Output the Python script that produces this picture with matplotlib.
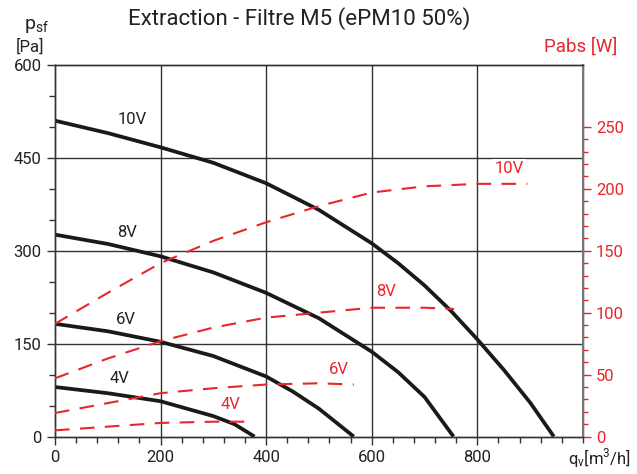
import matplotlib.pyplot as plt
from matplotlib.ticker import MultipleLocator, FixedLocator

plt.rcParams['font.family'] = ['Roboto', 'DejaVu Sans']
plt.rcParams['mathtext.fontset'] = 'custom'
plt.rcParams['mathtext.rm'] = 'Roboto'

RED = '#e8262d'

# pression statique (courbes noires) [Pa]
q_10v = [0, 100, 200, 300, 400, 500, 600, 650, 700, 750, 800, 850, 900, 945]
p_10v = [510, 490, 467, 442, 409, 366, 312, 280, 244, 203, 157, 108, 55, 0]
q_8v = [0, 100, 200, 300, 400, 500, 600, 650, 700, 755]
p_8v = [326, 311, 291, 265, 232, 191, 137, 104, 64, 0]
q_6v = [0, 100, 200, 300, 400, 450, 500, 566]
p_6v = [182, 170, 153, 130, 97, 73, 45, 0]
q_4v = [0, 100, 200, 300, 340, 378]
p_4v = [80, 70, 57, 33, 20, 0]

# puissance absorbee (courbes rouges) [W]
qw_10v = [0, 100, 200, 300, 400, 500, 600, 700, 800, 895]
w_10v = [91, 116, 140, 158, 173, 186, 197, 202, 204, 204]
qw_8v = [0, 100, 200, 300, 400, 500, 600, 700, 756]
w_8v = [47, 63, 77, 88, 96, 100, 104, 104, 103]
qw_6v = [0, 100, 200, 300, 400, 500, 566]
w_6v = [19, 27, 35, 39, 42, 43, 42]
qw_4v = [0, 100, 200, 300, 370]
w_4v = [5, 8, 11, 12, 12]

fig = plt.figure(figsize=(6.37, 4.74), dpi=100)
ax = fig.add_axes([0.0863, 0.079, 0.8287, 0.784])
ax2 = ax.twinx()

# grille
for x in [200, 400, 600, 800]:
    ax.axvline(x, color='#333333', lw=1, zorder=1)
for y in [150, 300, 450]:
    ax.axhline(y, color='#333333', lw=1, zorder=1)

for q, p in [(q_10v, p_10v), (q_8v, p_8v), (q_6v, p_6v), (q_4v, p_4v)]:
    ax.plot(q, p, color='#1a1a1a', lw=2.7, zorder=3, solid_capstyle='butt',
            solid_joinstyle='round')

for q, w in [(qw_10v, w_10v), (qw_8v, w_8v), (qw_6v, w_6v), (qw_4v, w_4v)]:
    ax2.plot(q, w, color=RED, lw=1.5, dashes=(7, 5), zorder=3)

ax.set_xlim(0, 1000)
ax.set_ylim(0, 600)
ax2.set_ylim(0, 300)

ax.xaxis.set_major_locator(FixedLocator([0, 200, 400, 600, 800]))
ax.xaxis.set_minor_locator(MultipleLocator(40))
ax.yaxis.set_major_locator(MultipleLocator(150))
ax.yaxis.set_minor_locator(MultipleLocator(50))
ax2.yaxis.set_major_locator(FixedLocator([0, 50, 100, 150, 200, 250]))
ax2.yaxis.set_minor_locator(FixedLocator(list(range(0, 251, 10))))

ax.tick_params(axis='both', which='major', labelsize=12, length=6, width=1,
               color='#333333', labelcolor='#222222')
ax.tick_params(axis='both', which='minor', length=4, width=1, color='#333333')
ax2.tick_params(axis='y', which='major', labelsize=12, length=6, width=1,
                color=RED, labelcolor=RED)
ax2.tick_params(axis='y', which='minor', length=3.5, width=1, color=RED)

for a in (ax, ax2):
    for s in a.spines.values():
        s.set_color('#333333')
        s.set_linewidth(1)
ax2.spines['right'].set_color('#777777')
ax2.spines['right'].set_linewidth(1.5)

# libelles des courbes
ax.text(147, 512, '10V', fontsize=12, color='#222222', ha='center', va='center')
ax.text(136, 329, '8V', fontsize=12, color='#222222', ha='center', va='center')
ax.text(134, 189, '6V', fontsize=12, color='#222222', ha='center', va='center')
ax.text(123, 93, '4V', fontsize=12, color='#222222', ha='center', va='center')

ax2.text(860, 216, '10V', fontsize=12, color=RED, ha='center', va='center',
         bbox=dict(facecolor='white', edgecolor='none', pad=1.5), zorder=4)
ax2.text(628, 117, '8V', fontsize=12, color=RED, ha='center', va='center')
ax2.text(538, 54, '6V', fontsize=12, color=RED, ha='center', va='center')
ax2.text(332, 26, '4V', fontsize=12, color=RED, ha='center', va='center')

fig.suptitle('Extraction - Filtre M5 (ePM10 50%)', x=0.469, y=0.985,
             fontsize=16, color='#222222')
fig.text(0.057, 0.945, r'$\mathregular{p_{sf}}$', fontsize=14, color='#222222',
         ha='center', va='center')
fig.text(0.047, 0.902, '[Pa]', fontsize=12, color='#222222', ha='center', va='center')
fig.text(0.969, 0.902, 'Pabs [W]', fontsize=13.5, color=RED, ha='right', va='center')
fig.text(0.99, 0.033, r'$\mathregular{q_v}$[m$^\mathregular{3}$/h]', fontsize=12,
         color='#222222', ha='right', va='center')

fig.savefig('out.png', dpi=100)
